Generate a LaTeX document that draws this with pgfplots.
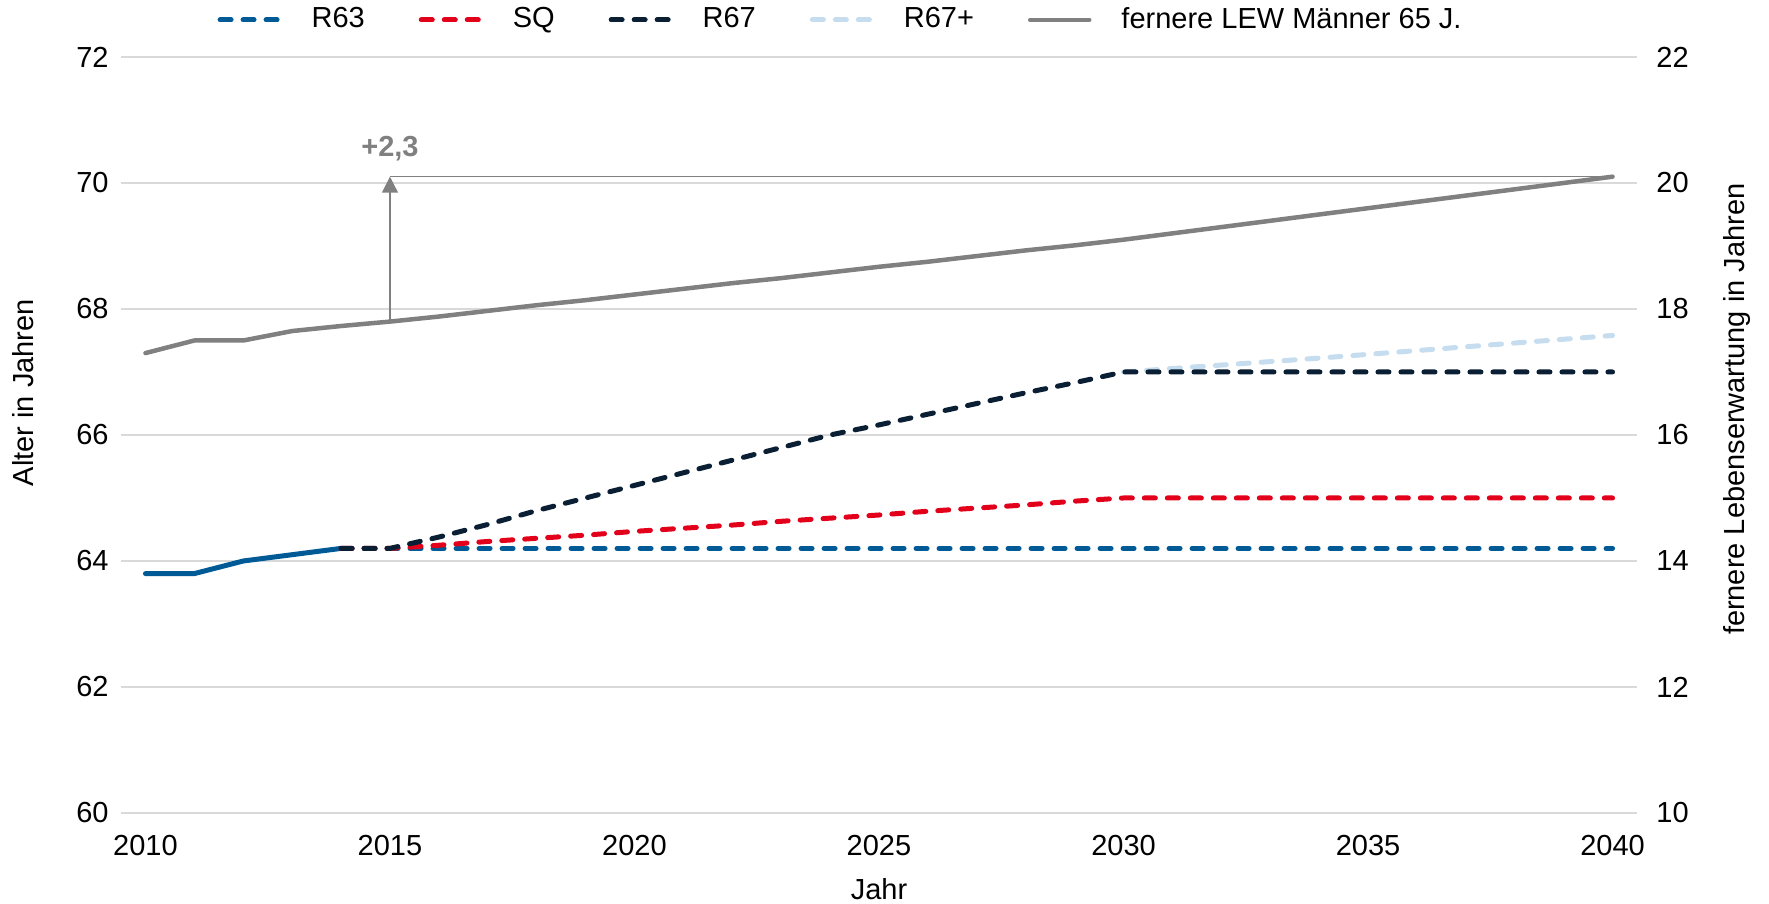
\documentclass[border=0pt]{standalone}
\usepackage{fontspec}
\setmainfont{Liberation Sans}
\usepackage{pgfplots}
\pgfplotsset{compat=1.18}
\usetikzlibrary{arrows.meta}
\definecolor{cR63}{HTML}{005A96}
\definecolor{cSQ}{HTML}{E2001A}
\definecolor{cR67}{HTML}{0A1F33}
\definecolor{cR67p}{HTML}{C5DDEE}
\definecolor{cLEW}{HTML}{808080}
\definecolor{cgrid}{HTML}{D9D9D9}
\pgfplotsset{
 base/.style={
  scale only axis, width=758pt, height=378pt,
  at={(0,0)}, anchor=south west,
  xmin=2009.5, xmax=2040.5,
  axis line style={draw=none},
  major tick length=0pt,
  /pgf/number format/assume math mode=true,
  /pgf/number format/1000 sep={},
  tick label style={inner sep=0pt},
  clip=false,
 },
 dsh/.style={line width=2.5pt, dash pattern=on 5.5pt off 6pt, line cap=round, line join=round},
}
\begin{document}
\fontsize{14.5}{17}\selectfont
\begin{tikzpicture}
\useasboundingbox (-60.5pt,-45.5pt) rectangle (824pt,406.5pt);
\begin{axis}[base,
  ymin=60, ymax=72, ytick={60,62,...,72},
  ymajorgrids, grid style={cgrid, line width=0.75pt},
  xtick={2010,2015,...,2040},
  xticklabel style={anchor=north, yshift=-11pt},
  yticklabel style={anchor=east, xshift=-6pt},
  xlabel={Jahr},
  xlabel style={at={(axis description cs:0.5,-0.1005)}, anchor=center},
  ylabel={Alter in Jahren},
  ylabel style={at={(axis description cs:-0.0646,0.556)}, anchor=center},
]
\addplot[cR63, line width=2.5pt, line cap=round, line join=round] coordinates {
 (2010,63.8) (2011,63.8) (2012,64.0) (2013,64.1) (2014,64.2)};
\addplot[cR63, dsh] coordinates {(2014,64.2) (2040,64.2)};
\addplot[cSQ, dsh] coordinates {
 (2014,64.2) (2015,64.2) (2016,64.25) (2017,64.31) (2018,64.36) (2019,64.41)
 (2020,64.47) (2021,64.52) (2022,64.57) (2023,64.63) (2024,64.68) (2025,64.73)
 (2026,64.79) (2027,64.84) (2028,64.89) (2029,64.95) (2030,65.0) (2040,65.0)};
\addplot[cR67p, dsh] coordinates {
 (2030,67.0) (2032,67.11) (2034,67.22) (2036,67.34) (2038,67.46) (2040,67.58)};
\addplot[cR67, dsh] coordinates {
 (2014,64.2) (2015,64.2) (2016,64.38) (2017,64.58) (2018,64.8) (2019,65.0)
 (2020,65.2) (2021,65.4) (2022,65.6) (2023,65.8) (2024,66.0) (2025,66.16)
 (2026,66.33) (2027,66.5) (2028,66.67) (2029,66.83) (2030,67.0) (2040,67.0)};
\end{axis}
\begin{axis}[base,
  ymin=10, ymax=22, ytick={10,12,...,22},
  yticklabel pos=right,
  yticklabel style={anchor=west, xshift=9.5pt},
  xtick=\empty,
  ylabel={fernere Lebenserwartung in Jahren},
  ylabel style={at={(axis description cs:1.066,0.534)}, anchor=center},
  legend columns=-1,
  legend style={at={(0.474,1.049)}, anchor=center, draw=none, fill=none,
    inner sep=0pt, nodes={inner sep=0pt},
    /tikz/every odd column/.append style={column sep=15pt},
    /tikz/every even column/.append style={column sep=27pt}},
  legend image code/.code={\draw[#1] (0pt,0pt) -- (29.5pt,0pt);},
]
\addlegendimage{cR63, dsh}\addlegendentry{R63}
\addlegendimage{cSQ, dsh}\addlegendentry{SQ}
\addlegendimage{cR67, dsh}\addlegendentry{R67}
\addlegendimage{cR67p, dsh}\addlegendentry{R67+}
\addplot[cLEW, line width=2.25pt, line cap=round, line join=round] coordinates {
 (2010,17.3) (2011,17.5) (2012,17.5) (2013,17.65) (2014,17.73) (2015,17.8)
 (2016,17.88) (2017,17.97) (2018,18.06) (2019,18.14) (2020,18.23) (2021,18.32)
 (2022,18.41) (2023,18.49) (2024,18.58) (2025,18.67) (2026,18.75) (2027,18.84)
 (2028,18.93) (2029,19.01) (2030,19.1) (2031,19.2) (2032,19.3) (2033,19.4)
 (2034,19.5) (2035,19.6) (2036,19.7) (2037,19.8) (2038,19.9) (2039,20.0) (2040,20.1)};
\addlegendentry{fernere LEW Männer 65 J.}
\addplot[cLEW, line width=0.7pt, forget plot] coordinates {(2015,20.1) (2040,20.1)};
\addplot[cLEW, line width=0.7pt, -{Triangle[length=8pt,width=8pt]}, forget plot] coordinates {(2015,17.8) (2015,20.1)};
\node[text=cLEW, font=\bfseries] at (axis cs:2015,20.55) {+2,3};
\end{axis}
\end{tikzpicture}
\end{document}
